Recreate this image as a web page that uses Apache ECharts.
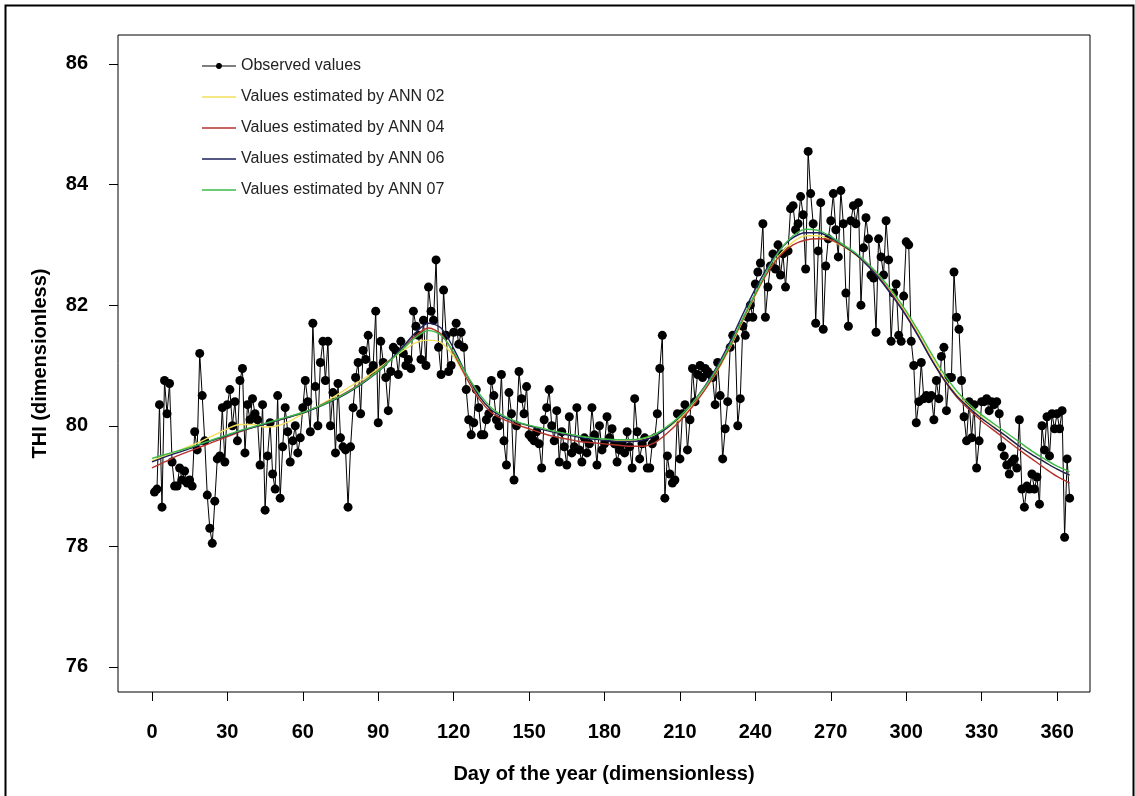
<!DOCTYPE html>
<html>
<head>
<meta charset="utf-8">
<script src="https://cdn.jsdelivr.net/npm/echarts@6/dist/echarts.min.js"></script>
<style>
  html, body { margin: 0; padding: 0; background: #fff; }
  #chart { width: 1135px; height: 796px; }
</style>
</head>
<body>
<div id="chart"></div>
<script>
// observed THI, one value per day (day 1 .. 365)
var observed = [
  78.9, 78.95, 80.35, 78.65, 80.75, 80.2, 80.7, 79.4, 79.0, 79.0,
  79.3, 79.1, 79.25, 79.05, 79.1, 79.0, 79.9, 79.6, 81.2, 80.5,
  79.75, 78.85, 78.3, 78.05, 78.75, 79.45, 79.5, 80.3, 79.4, 80.35,
  80.6, 80.0, 80.4, 79.75, 80.75, 80.95, 79.55, 80.35, 80.1, 80.45,
  80.2, 80.1, 79.35, 80.35, 78.6, 79.5, 80.05, 79.2, 78.95, 80.5,
  78.8, 79.65, 80.3, 79.9, 79.4, 79.75, 80.0, 79.55, 79.8, 80.3,
  80.75, 80.4, 79.9, 81.7, 80.65, 80.0, 81.05, 81.4, 80.75, 81.4,
  80.0, 80.55, 79.55, 80.7, 79.8, 79.65, 79.6, 78.65, 79.65, 80.3,
  80.8, 81.05, 80.2, 81.25, 81.1, 81.5, 80.9, 81.0, 81.9, 80.05,
  81.4, 81.05, 80.8, 80.25, 80.9, 81.3, 81.25, 80.85, 81.4, 81.2,
  81.0, 81.1, 80.95, 81.9, 81.65, 81.5, 81.1, 81.75, 81.0, 82.3,
  81.9, 81.75, 82.75, 81.3, 80.85, 82.25, 81.5, 80.9, 81.0, 81.55,
  81.7, 81.35, 81.55, 81.3, 80.6, 80.1, 79.85, 80.05, 80.6, 80.3,
  79.85, 79.85, 80.1, 80.2, 80.75, 80.5, 80.1, 80.0, 80.85, 79.75,
  79.35, 80.55, 80.2, 79.1, 80.0, 80.9, 80.45, 80.2, 80.65, 79.85,
  79.8, 79.75, 79.9, 79.7, 79.3, 80.1, 80.3, 80.6, 80.0, 79.75,
  80.25, 79.4, 79.9, 79.65, 79.35, 80.15, 79.55, 79.65, 80.3, 79.6,
  79.4, 79.8, 79.55, 79.7, 80.3, 79.85, 79.35, 80.0, 79.6, 79.7,
  80.15, 79.8, 79.95, 79.7, 79.4, 79.6, 79.7, 79.55, 79.9, 79.65,
  79.3, 80.45, 79.9, 79.45, 79.7, 79.8, 79.3, 79.3, 79.7, 79.8,
  80.2, 80.95, 81.5, 78.8, 79.5, 79.2, 79.05, 79.1, 80.2, 79.45,
  80.2, 80.35, 79.6, 80.1, 80.95, 80.4, 80.85, 81.0, 80.8, 80.95,
  80.9, 80.85, 80.8, 80.35, 81.05, 80.5, 79.45, 79.95, 80.4, 81.3,
  81.5, 81.45, 80.0, 80.45, 81.65, 81.5, 81.8, 82.0, 81.8, 82.35,
  82.55, 82.7, 83.35, 81.8, 82.3, 82.65, 82.85, 82.6, 83.0, 82.5,
  82.85, 82.3, 82.9, 83.6, 83.65, 83.25, 83.35, 83.8, 83.5, 82.6,
  84.55, 83.85, 83.35, 81.7, 82.9, 83.7, 81.6, 82.65, 83.1, 83.4,
  83.85, 83.25, 82.8, 83.9, 83.35, 82.2, 81.65, 83.4, 83.65, 83.35,
  83.7, 82.0, 82.95, 83.45, 83.1, 82.5, 82.45, 81.55, 83.1, 82.8,
  82.5, 83.4, 82.75, 81.4, 82.2, 82.35, 81.5, 81.4, 82.15, 83.05,
  83.0, 81.4, 81.0, 80.05, 80.4, 81.05, 80.45, 80.5, 80.45, 80.5,
  80.1, 80.75, 80.45, 81.15, 81.3, 80.25, 80.8, 80.8, 82.55, 81.8,
  81.6, 80.75, 80.15, 79.75, 80.4, 79.8, 80.35, 79.3, 79.75, 80.4,
  80.4, 80.45, 80.25, 80.4, 80.35, 80.4, 80.2, 79.65, 79.5, 79.35,
  79.2, 79.4, 79.45, 79.3, 80.1, 78.95, 78.65, 79.0, 78.95, 79.2,
  78.95, 79.15, 78.7, 80.0, 79.6, 80.15, 79.5, 80.2, 79.95, 80.2,
  79.95, 80.25, 78.15, 79.45, 78.8
];

// days at which the fitted curves were read
var fitDays = [0, 5, 10, 15, 20, 25, 30, 35, 40, 45, 50, 55, 60, 65, 70, 75, 80, 85, 90, 95,
  100, 105, 110, 115, 120, 125, 130, 135, 140, 145, 150, 155, 160, 165, 170, 175, 180, 185, 190, 195,
  200, 205, 210, 215, 220, 225, 230, 235, 240, 245, 250, 255, 260, 265, 270, 275, 280, 285, 290, 295,
  300, 305, 310, 315, 320, 325, 330, 335, 340, 345, 350, 355, 360, 365];

var ann02 = [79.42, 79.5, 79.58, 79.66, 79.75, 79.85, 79.95, 80.02, 80.02, 79.98, 80.0, 80.08, 80.2, 80.3, 80.42, 80.55, 80.68, 80.8, 80.95, 81.1,
  81.25, 81.38, 81.42, 81.38, 81.15, 80.8, 80.48, 80.28, 80.15, 80.06, 80.0, 79.95, 79.9, 79.86, 79.82, 79.79, 79.77, 79.76, 79.76, 79.78,
  79.84, 79.96, 80.12, 80.34, 80.6, 80.92, 81.3, 81.74, 82.16, 82.55, 82.85, 83.05, 83.15, 83.15, 83.08, 82.97, 82.83, 82.65, 82.43, 82.17,
  81.87, 81.52, 81.15, 80.8, 80.52, 80.32, 80.14, 79.98, 79.82, 79.66, 79.52, 79.4, 79.28, 79.18];
var ann04 = [79.3, 79.4, 79.5, 79.58, 79.66, 79.74, 79.82, 79.9, 79.97, 80.03, 80.09, 80.15, 80.22, 80.3, 80.4, 80.5, 80.62, 80.76, 80.92, 81.1,
  81.3, 81.5, 81.62, 81.52, 81.2, 80.8, 80.45, 80.22, 80.1, 80.02, 79.95, 79.88, 79.82, 79.78, 79.74, 79.72, 79.7, 79.68, 79.66, 79.66,
  79.72, 79.88, 80.08, 80.32, 80.6, 80.93, 81.32, 81.76, 82.18, 82.55, 82.83, 83.0, 83.08, 83.1, 83.08, 82.98, 82.84, 82.65, 82.42, 82.14,
  81.83, 81.48, 81.1, 80.76, 80.48, 80.27, 80.08, 79.92, 79.76, 79.6, 79.45, 79.3, 79.16, 79.05];
var ann06 = [79.4, 79.48, 79.55, 79.62, 79.7, 79.77, 79.84, 79.91, 79.97, 80.03, 80.09, 80.15, 80.21, 80.29, 80.38, 80.48, 80.6, 80.74, 80.9, 81.1,
  81.32, 81.55, 81.7, 81.62, 81.28, 80.86, 80.5, 80.26, 80.14, 80.06, 80.0, 79.94, 79.89, 79.85, 79.81, 79.78, 79.76, 79.74, 79.74, 79.76,
  79.83, 79.97, 80.15, 80.38, 80.66, 81.0, 81.4, 81.85, 82.27, 82.64, 82.93, 83.12, 83.2, 83.2, 83.12, 82.99, 82.84, 82.64, 82.4, 82.12,
  81.82, 81.47, 81.1, 80.77, 80.5, 80.3, 80.12, 79.97, 79.82, 79.66, 79.52, 79.4, 79.28, 79.18];
var ann07 = [79.46, 79.52, 79.58, 79.64, 79.71, 79.78, 79.85, 79.92, 79.98, 80.04, 80.1, 80.16, 80.22, 80.3, 80.39, 80.49, 80.61, 80.75, 80.91, 81.09,
  81.28, 81.47, 81.58, 81.5, 81.22, 80.86, 80.54, 80.3, 80.16, 80.07, 80.01, 79.96, 79.91, 79.87, 79.83, 79.8, 79.78, 79.77, 79.77, 79.79,
  79.86, 79.99, 80.16, 80.38, 80.65, 80.97, 81.35, 81.78, 82.2, 82.6, 82.92, 83.15, 83.26, 83.24, 83.14, 83.0, 82.86, 82.68, 82.46, 82.2,
  81.9, 81.56, 81.2, 80.86, 80.58, 80.36, 80.18, 80.03, 79.88, 79.73, 79.58, 79.45, 79.33, 79.24];

var xTicks = [0, 30, 60, 90, 120, 150, 180, 210, 240, 270, 300, 330, 360];
var yTicks = [76, 78, 80, 82, 84, 86];

function pairs(xs, ys) {
  var out = [];
  for (var i = 0; i < ys.length; i++) out.push([xs[i], ys[i]]);
  return out;
}
var obsPts = [];
for (var d = 0; d < observed.length; d++) obsPts.push([d + 1, observed[d]]);

var font = '"Liberation Sans", Arial, sans-serif';

// legend icons (34x14 box): plain line, and line with a small dot
var lineIcon = 'path://M0,0L0.01,0M0,6.2L34,6.2L34,7.8L0,7.8ZM34,14L33.99,14';
var dotIcon = 'path://M0,0L0.01,0M0,6.4L14,6.4A3,3,0,1,1,14,7.6L0,7.6ZM20,6.4L34,6.4L34,7.6L20,7.6A3,3,0,1,1,20,6.4ZM34,14L33.99,14';

function fitLine(name, data, color) {
  return {
    name: name, type: 'line', smooth: 0.3, symbol: 'none',
    data: pairs(fitDays, data),
    lineStyle: { color: color, width: 1.4 },
    itemStyle: { color: color },
    z: 3
  };
}

var chart = echarts.init(document.getElementById('chart'));
chart.setOption({
  animation: false,
  backgroundColor: '#fff',
  graphic: [{
    type: 'rect', left: 3, top: 3,
    shape: { width: 1128, height: 820 },
    style: { fill: 'none', stroke: '#000', lineWidth: 2 }
  }],
  grid: {
    left: 118, top: 35, width: 972, height: 657,
    show: true, borderColor: '#000', borderWidth: 1, backgroundColor: 'transparent'
  },
  legend: {
    orient: 'vertical', left: 197, top: 53,
    itemWidth: 34, itemHeight: 14, itemGap: 15,
    textStyle: { fontFamily: font, fontSize: 16, color: '#222', lineHeight: 14 },
    data: [
      { name: 'Observed values', icon: dotIcon },
      { name: 'Values estimated by ANN 02', icon: lineIcon },
      { name: 'Values estimated by ANN 04', icon: lineIcon },
      { name: 'Values estimated by ANN 06', icon: lineIcon },
      { name: 'Values estimated by ANN 07', icon: lineIcon }
    ]
  },
  xAxis: {
    type: 'value', min: -13.5, max: 373.1,
    name: 'Day of the year (dimensionless)', nameLocation: 'middle', nameGap: 72,
    nameTextStyle: { fontFamily: font, fontSize: 20, fontWeight: 'bold', color: '#000' },
    axisLine: { show: false, onZero: false },
    axisTick: { show: true, inside: false, length: 9, customValues: xTicks, lineStyle: { color: '#000' } },
    axisLabel: { customValues: xTicks, margin: 30, fontFamily: font, fontSize: 20, fontWeight: 'bold', color: '#000' },
    splitLine: { show: false }
  },
  yAxis: {
    type: 'value', min: 75.585, max: 86.48,
    name: 'THI (dimensionless)', nameLocation: 'middle', nameGap: 68, nameRotate: 90,
    nameTextStyle: { fontFamily: font, fontSize: 20, fontWeight: 'bold', color: '#000' },
    axisLine: { show: false, onZero: false },
    axisTick: { show: true, inside: false, length: 9, customValues: yTicks, lineStyle: { color: '#000' } },
    axisLabel: { customValues: yTicks, margin: 30, fontFamily: font, fontSize: 20, fontWeight: 'bold', color: '#000' },
    splitLine: { show: false }
  },
  series: [
    {
      name: 'Observed values', type: 'line', data: obsPts,
      symbol: 'circle', symbolSize: 9, showSymbol: true,
      lineStyle: { color: '#000', width: 1 },
      itemStyle: { color: '#000' },
      z: 2
    },
    fitLine('Values estimated by ANN 02', ann02, '#f2e15c'),
    fitLine('Values estimated by ANN 04', ann04, '#b5342c'),
    fitLine('Values estimated by ANN 06', ann06, '#1d1f5c'),
    fitLine('Values estimated by ANN 07', ann07, '#3dbb4a')
  ]
});
</script>
</body>
</html>
